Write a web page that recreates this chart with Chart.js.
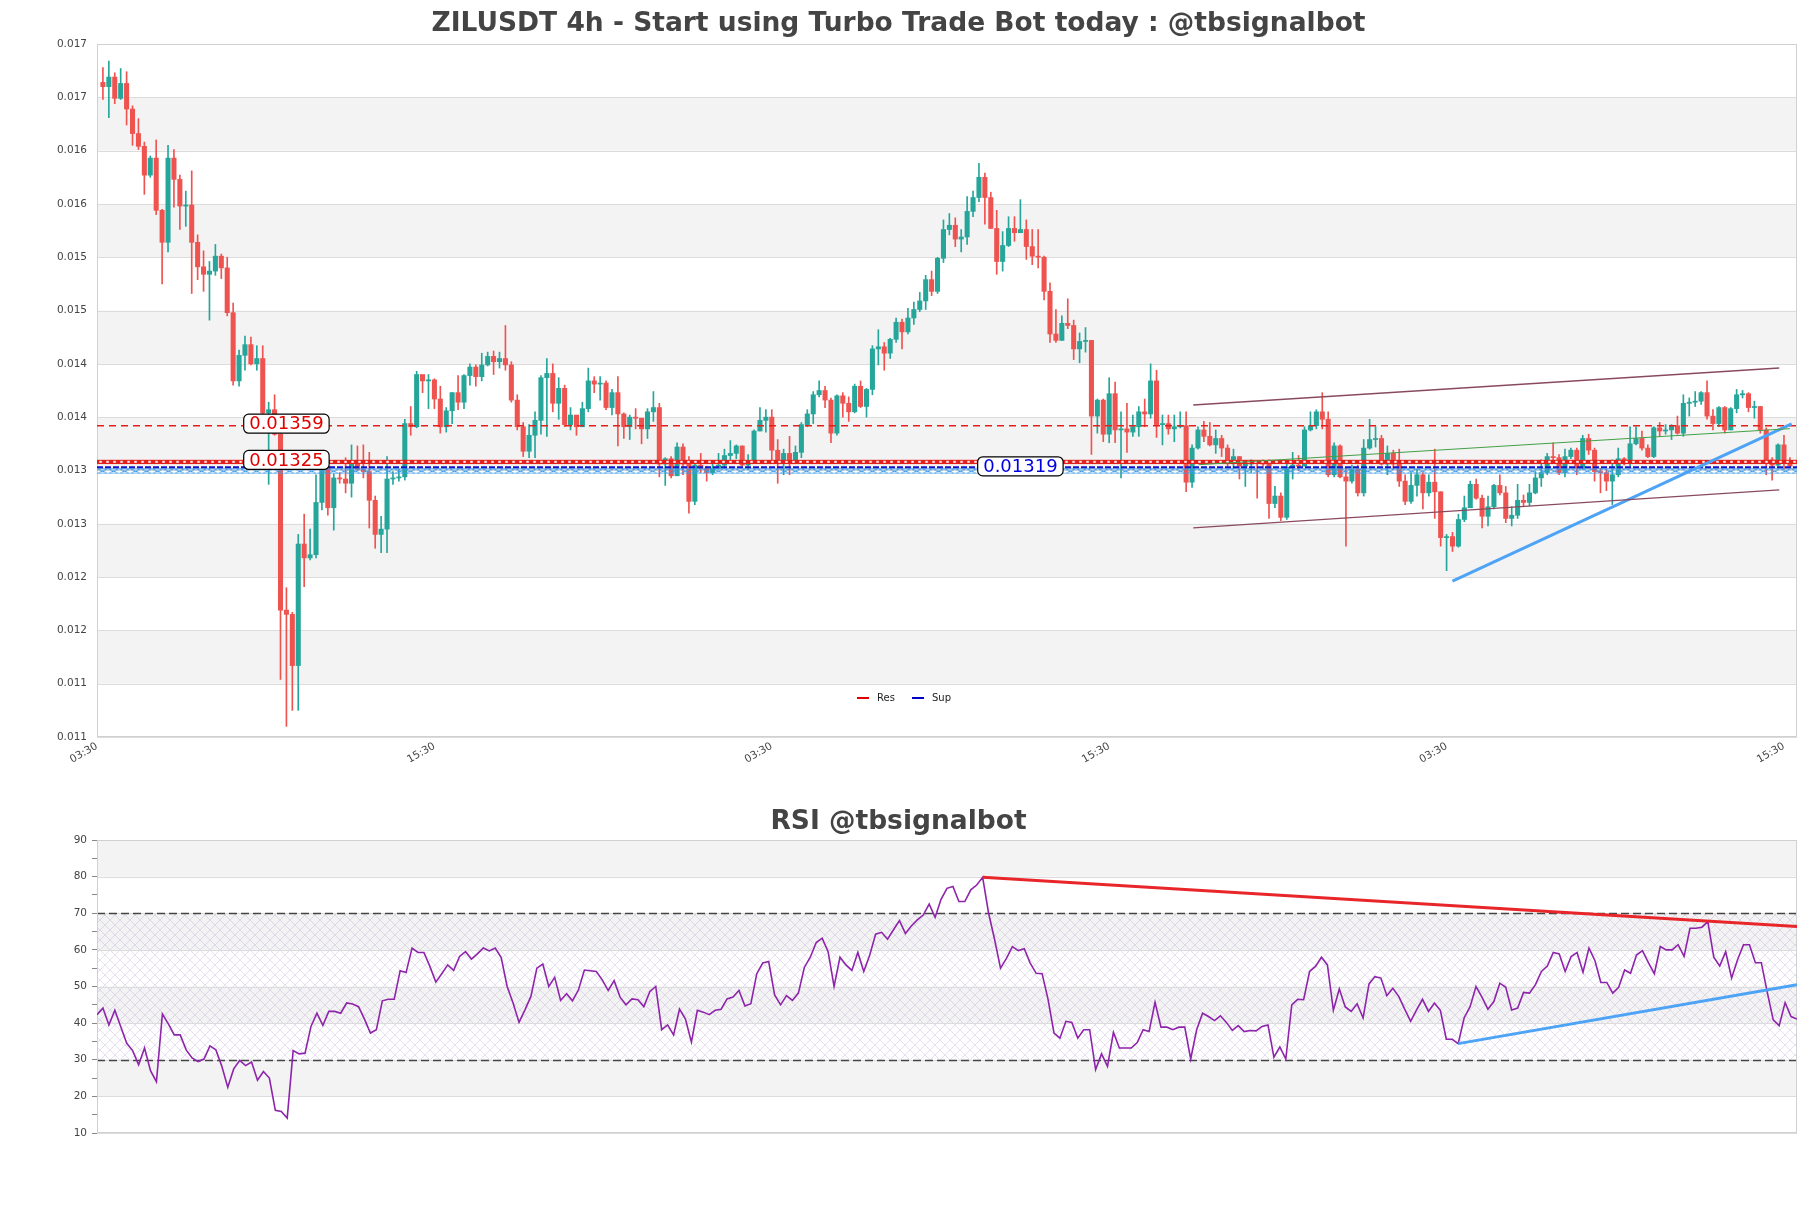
<!DOCTYPE html>
<html>
<head>
<meta charset="utf-8">
<title>ZILUSDT 4h</title>
<script src="https://cdn.jsdelivr.net/npm/chart.js@4.4.1/dist/chart.umd.min.js"></script>
<style>
  html, body { margin: 0; padding: 0; background: #fff; }
  #wrap { position: relative; width: 1811px; height: 1208px; }
  #priceChart { position: absolute; left: 0; top: 0; }
  #rsiChart { position: absolute; left: 0; top: 790px; }
</style>
</head>
<body>
<div id="wrap">
  <canvas id="priceChart" width="1811" height="790"></canvas>
  <canvas id="rsiChart" width="1811" height="418"></canvas>
</div>
<script>
// ---- price data (4h candles, oldest first) ----
const opens = [
  0.01681,0.01677,0.01686,0.01666,0.01680,0.01656,0.01633,0.01621,0.01594,0.01610,
  0.01561,0.01531,0.01610,0.01590,0.01565,0.01566,0.01531,0.01508,0.01501,0.01504,
  0.01518,0.01507,0.01465,0.01401,0.01425,0.01435,0.01417,0.01422,0.01371,0.01374,
  0.01351,0.01186,0.01182,0.01134,0.01248,0.01235,0.01238,0.01287,0.01321,0.01282,
  0.01310,0.01309,0.01305,0.01324,0.01318,0.01316,0.01289,0.01257,0.01262,0.01309,
  0.01310,0.01311,0.01361,0.01358,0.01407,0.01401,0.01402,0.01384,0.01358,0.01373,
  0.01390,0.01381,0.01406,0.01414,0.01405,0.01416,0.01424,0.01419,0.01422,0.01416,
  0.01383,0.01358,0.01335,0.01350,0.01364,0.01404,0.01408,0.01380,0.01394,0.01360,
  0.01369,0.01358,0.01375,0.01401,0.01398,0.01399,0.01376,0.01390,0.01370,0.01358,
  0.01367,0.01366,0.01356,0.01372,0.01376,0.01323,0.01328,0.01312,0.01339,0.01323,
  0.01288,0.01322,0.01319,0.01315,0.01319,0.01322,0.01331,0.01333,0.01340,0.01322,
  0.01325,0.01354,0.01364,0.01367,0.01336,0.01325,0.01333,0.01326,0.01334,0.01360,
  0.01370,0.01388,0.01392,0.01383,0.01352,0.01387,0.01380,0.01372,0.01396,0.01377,
  0.01393,0.01431,0.01433,0.01427,0.01440,0.01456,0.01447,0.01460,0.01468,0.01476,
  0.01496,0.01485,0.01516,0.01543,0.01547,0.01534,0.01536,0.01560,0.01573,0.01592,
  0.01573,0.01544,0.01513,0.01528,0.01544,0.01540,0.01543,0.01527,0.01518,0.01517,
  0.01485,0.01445,0.01439,0.01455,0.01453,0.01431,0.01438,0.01439,0.01368,0.01383,
  0.01351,0.01389,0.01355,0.01356,0.01353,0.01358,0.01372,0.01370,0.01401,0.01360,
  0.01361,0.01356,0.01358,0.01359,0.01306,0.01338,0.01355,0.01349,0.01341,0.01347,
  0.01338,0.01324,0.01330,0.01321,0.01323,0.01325,0.01324,0.01323,0.01286,0.01293,
  0.01273,0.01320,0.01322,0.01321,0.01355,0.01359,0.01372,0.01365,0.01313,0.01340,
  0.01311,0.01307,0.01318,0.01296,0.01338,0.01346,0.01347,0.01323,0.01333,0.01323,
  0.01307,0.01288,0.01303,0.01313,0.01296,0.01306,0.01297,0.01254,0.01255,0.01246,
  0.01271,0.01282,0.01304,0.01291,0.01274,0.01283,0.01303,0.01296,0.01272,0.01275,
  0.01289,0.01287,0.01296,0.01310,0.01315,0.01330,0.01329,0.01315,0.01330,0.01336,
  0.01319,0.01347,0.01336,0.01316,0.01315,0.01307,0.01313,0.01328,0.01324,0.01342,
  0.01347,0.01338,0.01330,0.01357,0.01354,0.01355,0.01359,0.01352,0.01380,0.01381,
  0.01382,0.01390,0.01368,0.01361,0.01376,0.01355,0.01375,0.01388,0.01389,0.01376,
  0.01377,0.01355,0.01327,0.01322,0.01341,0.01324
];
const highs = [
  0.01695,0.01701,0.01690,0.01694,0.01691,0.01659,0.01647,0.01625,0.01612,0.01627,
  0.01562,0.01622,0.01618,0.01594,0.01579,0.01598,0.01538,0.01523,0.01513,0.01529,
  0.01520,0.01517,0.01474,0.01430,0.01443,0.01442,0.01434,0.01434,0.01381,0.01388,
  0.01360,0.01207,0.01184,0.01257,0.01276,0.01262,0.01313,0.01327,0.01320,0.01314,
  0.01315,0.01329,0.01341,0.01340,0.01341,0.01334,0.01293,0.01274,0.01330,0.01316,
  0.01318,0.01365,0.01377,0.01410,0.01406,0.01407,0.01403,0.01396,0.01376,0.01390,
  0.01406,0.01407,0.01417,0.01416,0.01427,0.01428,0.01429,0.01428,0.01453,0.01419,
  0.01388,0.01362,0.01360,0.01372,0.01406,0.01422,0.01417,0.01404,0.01397,0.01376,
  0.01368,0.01381,0.01413,0.01405,0.01405,0.01401,0.01393,0.01405,0.01371,0.01369,
  0.01375,0.01366,0.01375,0.01391,0.01380,0.01329,0.01330,0.01343,0.01342,0.01330,
  0.01326,0.01333,0.01321,0.01324,0.01333,0.01337,0.01345,0.01341,0.01340,0.01332,
  0.01355,0.01376,0.01374,0.01374,0.01346,0.01337,0.01349,0.01340,0.01362,0.01374,
  0.01391,0.01401,0.01396,0.01385,0.01388,0.01390,0.01386,0.01398,0.01401,0.01394,
  0.01434,0.01449,0.01437,0.01441,0.01460,0.01459,0.01469,0.01475,0.01484,0.01500,
  0.01504,0.01517,0.01552,0.01558,0.01554,0.01543,0.01574,0.01579,0.01605,0.01596,
  0.01578,0.01561,0.01541,0.01555,0.01555,0.01571,0.01552,0.01543,0.01543,0.01518,
  0.01493,0.01468,0.01462,0.01478,0.01458,0.01446,0.01451,0.01439,0.01384,0.01384,
  0.01404,0.01400,0.01372,0.01380,0.01369,0.01377,0.01384,0.01417,0.01411,0.01369,
  0.01369,0.01369,0.01372,0.01372,0.01341,0.01358,0.01363,0.01362,0.01355,0.01350,
  0.01341,0.01337,0.01330,0.01326,0.01327,0.01326,0.01327,0.01327,0.01302,0.01296,
  0.01324,0.01334,0.01331,0.01358,0.01372,0.01374,0.01390,0.01372,0.01343,0.01341,
  0.01319,0.01322,0.01322,0.01346,0.01365,0.01358,0.01350,0.01340,0.01336,0.01337,
  0.01313,0.01315,0.01318,0.01315,0.01313,0.01337,0.01297,0.01257,0.01259,0.01276,
  0.01293,0.01307,0.01309,0.01294,0.01293,0.01304,0.01313,0.01302,0.01283,0.01304,
  0.01294,0.01304,0.01316,0.01327,0.01333,0.01343,0.01332,0.01337,0.01338,0.01338,
  0.01350,0.01351,0.01338,0.01319,0.01318,0.01327,0.01338,0.01329,0.01358,0.01358,
  0.01354,0.01341,0.01358,0.01362,0.01360,0.01360,0.01368,0.01388,0.01385,0.01391,
  0.01391,0.01401,0.01374,0.01377,0.01377,0.01376,0.01393,0.01392,0.01390,0.01382,
  0.01377,0.01357,0.01329,0.01342,0.01350,0.01329
];
const lows = [
  0.01665,0.01648,0.01661,0.01665,0.01641,0.01622,0.01618,0.01576,0.01592,0.01557,
  0.01492,0.01522,0.01564,0.01543,0.01546,0.01483,0.01496,0.01485,0.01458,0.01500,
  0.01497,0.01462,0.01397,0.01396,0.01411,0.01416,0.01411,0.01370,0.01304,0.01350,
  0.01121,0.01077,0.01092,0.01092,0.01208,0.01233,0.01235,0.01280,0.01275,0.01261,
  0.01305,0.01296,0.01292,0.01317,0.01310,0.01263,0.01244,0.01240,0.01240,0.01304,
  0.01307,0.01308,0.01350,0.01357,0.01390,0.01375,0.01375,0.01352,0.01353,0.01361,
  0.01374,0.01375,0.01397,0.01396,0.01401,0.01415,0.01407,0.01413,0.01411,0.01381,
  0.01355,0.01330,0.01329,0.01329,0.01351,0.01349,0.01372,0.01365,0.01358,0.01355,
  0.01350,0.01358,0.01372,0.01390,0.01383,0.01374,0.01369,0.01340,0.01347,0.01346,
  0.01356,0.01342,0.01347,0.01363,0.01311,0.01303,0.01310,0.01312,0.01313,0.01277,
  0.01285,0.01315,0.01307,0.01313,0.01318,0.01319,0.01324,0.01328,0.01321,0.01318,
  0.01324,0.01354,0.01353,0.01325,0.01305,0.01313,0.01313,0.01325,0.01329,0.01358,
  0.01361,0.01386,0.01376,0.01343,0.01350,0.01367,0.01363,0.01371,0.01376,0.01367,
  0.01388,0.01416,0.01411,0.01422,0.01437,0.01431,0.01445,0.01454,0.01466,0.01468,
  0.01481,0.01483,0.01512,0.01538,0.01527,0.01522,0.01529,0.01555,0.01569,0.01548,
  0.01544,0.01501,0.01504,0.01527,0.01532,0.01540,0.01515,0.01510,0.01507,0.01477,
  0.01437,0.01437,0.01439,0.01450,0.01421,0.01418,0.01428,0.01332,0.01352,0.01344,
  0.01343,0.01343,0.01310,0.01334,0.01349,0.01349,0.01358,0.01366,0.01348,0.01341,
  0.01351,0.01344,0.01357,0.01297,0.01301,0.01337,0.01344,0.01340,0.01333,0.01330,
  0.01321,0.01319,0.01309,0.01302,0.01315,0.01291,0.01318,0.01272,0.01282,0.01270,
  0.01271,0.01309,0.01317,0.01322,0.01354,0.01356,0.01356,0.01311,0.01311,0.01310,
  0.01246,0.01305,0.01293,0.01293,0.01337,0.01339,0.01322,0.01313,0.01318,0.01302,
  0.01285,0.01286,0.01293,0.01281,0.01293,0.01272,0.01246,0.01223,0.01241,0.01245,
  0.01269,0.01283,0.01290,0.01263,0.01265,0.01281,0.01294,0.01268,0.01265,0.01272,
  0.01283,0.01284,0.01295,0.01302,0.01313,0.01325,0.01313,0.01311,0.01328,0.01313,
  0.01318,0.01332,0.01307,0.01296,0.01298,0.01285,0.01311,0.01322,0.01321,0.01341,
  0.01336,0.01329,0.01329,0.01349,0.01351,0.01346,0.01351,0.01349,0.01368,0.01377,
  0.01379,0.01365,0.01355,0.01358,0.01352,0.01355,0.01371,0.01385,0.01372,0.01366,
  0.01352,0.01313,0.01308,0.01321,0.01318,0.01320
];
const closes = [
  0.01677,0.01686,0.01666,0.01680,0.01656,0.01633,0.01621,0.01594,0.01610,0.01561,
  0.01531,0.01610,0.01590,0.01565,0.01566,0.01531,0.01508,0.01501,0.01504,0.01518,
  0.01507,0.01465,0.01401,0.01425,0.01435,0.01417,0.01422,0.01371,0.01374,0.01351,
  0.01186,0.01182,0.01134,0.01248,0.01235,0.01238,0.01287,0.01321,0.01282,0.01310,
  0.01309,0.01305,0.01324,0.01318,0.01316,0.01289,0.01257,0.01262,0.01309,0.01310,
  0.01311,0.01361,0.01358,0.01407,0.01401,0.01402,0.01384,0.01358,0.01373,0.01390,
  0.01381,0.01406,0.01414,0.01405,0.01416,0.01424,0.01419,0.01422,0.01416,0.01383,
  0.01358,0.01335,0.01350,0.01364,0.01404,0.01408,0.01380,0.01394,0.01360,0.01369,
  0.01358,0.01375,0.01401,0.01398,0.01399,0.01376,0.01390,0.01370,0.01358,0.01367,
  0.01366,0.01356,0.01372,0.01376,0.01323,0.01328,0.01312,0.01339,0.01323,0.01288,
  0.01322,0.01319,0.01315,0.01319,0.01322,0.01331,0.01333,0.01340,0.01322,0.01325,
  0.01354,0.01364,0.01367,0.01336,0.01325,0.01333,0.01326,0.01334,0.01360,0.01370,
  0.01388,0.01392,0.01383,0.01352,0.01387,0.01380,0.01372,0.01396,0.01377,0.01393,
  0.01431,0.01433,0.01427,0.01440,0.01456,0.01447,0.01460,0.01468,0.01476,0.01496,
  0.01485,0.01516,0.01543,0.01547,0.01534,0.01536,0.01560,0.01573,0.01592,0.01573,
  0.01544,0.01513,0.01528,0.01544,0.01540,0.01543,0.01527,0.01518,0.01517,0.01485,
  0.01445,0.01439,0.01455,0.01453,0.01431,0.01438,0.01439,0.01368,0.01383,0.01351,
  0.01389,0.01355,0.01356,0.01353,0.01358,0.01372,0.01370,0.01401,0.01360,0.01361,
  0.01356,0.01358,0.01359,0.01306,0.01338,0.01355,0.01349,0.01341,0.01347,0.01338,
  0.01324,0.01330,0.01321,0.01323,0.01325,0.01324,0.01323,0.01286,0.01293,0.01273,
  0.01320,0.01322,0.01321,0.01355,0.01359,0.01372,0.01365,0.01313,0.01340,0.01311,
  0.01307,0.01318,0.01296,0.01338,0.01346,0.01347,0.01323,0.01333,0.01323,0.01307,
  0.01288,0.01303,0.01313,0.01296,0.01306,0.01297,0.01254,0.01255,0.01246,0.01271,
  0.01282,0.01304,0.01291,0.01274,0.01283,0.01303,0.01296,0.01272,0.01275,0.01289,
  0.01287,0.01296,0.01310,0.01315,0.01330,0.01329,0.01315,0.01330,0.01336,0.01319,
  0.01347,0.01336,0.01316,0.01315,0.01307,0.01313,0.01328,0.01324,0.01342,0.01347,
  0.01338,0.01330,0.01357,0.01354,0.01355,0.01359,0.01352,0.01380,0.01381,0.01382,
  0.01390,0.01368,0.01361,0.01376,0.01355,0.01375,0.01388,0.01389,0.01376,0.01377,
  0.01355,0.01327,0.01322,0.01341,0.01324,0.01321
];

// RSI(14) values, one per candle
const rsiValues = [
  42.3,44.1,39.5,43.5,39.0,34.5,32.5,28.6,33.2,27.0,
  24.0,42.5,39.8,36.8,36.8,32.7,30.5,29.5,30.2,33.8,
  32.7,28.2,22.5,27.5,29.8,28.4,29.4,24.4,26.8,25.0,
  16.2,15.9,14.1,32.5,31.6,31.8,39.1,42.7,39.4,43.2,
  43.2,42.7,45.5,45.2,44.5,41.1,37.3,38.2,46.1,46.5,
  46.5,54.3,53.8,60.5,59.3,59.3,55.5,51.2,53.5,55.9,
  54.4,58.2,59.5,57.5,58.9,60.5,59.7,60.5,57.9,50.0,
  45.5,40.2,43.6,47.3,55.0,56.1,50.0,52.5,46.2,48.0,
  46.1,49.1,54.5,54.3,54.1,51.8,48.9,51.6,47.1,45.0,
  46.6,46.4,44.5,48.6,50.0,38.2,39.5,36.8,43.8,41.1,
  34.8,43.5,43.0,42.3,43.5,43.8,46.6,47.1,48.9,44.7,
  45.3,53.5,56.4,56.8,47.7,45.0,47.5,46.2,48.2,55.2,
  58.0,62.0,63.2,59.5,50.0,58.0,55.9,54.4,59.3,54.1,
  58.6,64.3,64.8,62.9,65.5,68.0,64.5,66.5,68.2,69.5,
  72.5,68.9,73.8,76.8,77.3,73.2,73.2,76.4,77.7,79.8,
  70.0,62.9,55.0,57.7,60.9,59.8,60.3,56.4,53.6,53.5,
  46.5,37.3,35.9,40.5,40.2,35.9,38.2,38.2,27.3,31.6,
  28.2,37.5,33.2,33.2,33.2,34.7,38.2,37.7,45.7,38.9,
  38.9,38.2,38.9,38.9,30.2,38.2,42.7,41.8,40.7,42.0,
  40.2,38.0,39.3,37.7,38.0,37.9,39.1,39.5,30.7,33.5,
  30.2,45.0,46.5,46.4,54.1,55.5,58.0,55.9,43.5,49.3,
  44.4,43.2,45.3,41.4,50.7,52.7,52.3,47.5,49.5,47.3,
  43.8,40.5,43.6,46.5,43.2,45.5,43.5,35.6,35.6,34.4,
  41.4,44.5,50.0,47.1,43.8,45.9,50.9,49.8,43.6,44.1,
  48.4,48.2,50.5,54.1,55.6,59.3,58.9,54.1,58.2,59.3,
  53.9,60.5,57.1,51.1,51.1,48.2,49.8,54.5,53.6,58.6,
  59.8,56.5,53.5,60.9,60.0,60.0,61.4,58.2,65.9,65.9,
  66.2,67.7,58.0,55.6,59.5,52.3,57.3,61.4,61.4,56.5,
  56.5,48.4,40.9,39.3,45.6,41.8,41.1
];

// axes
const xTickPos = [-1, 56, 113, 170, 227, 284];
const xTickLabels = ['03:30', '15:30', '03:30', '15:30', '03:30', '15:30'];
const yTicks = [0.01067, 0.01117, 0.01167, 0.01217, 0.01267, 0.01317, 0.01367,
                0.01417, 0.01467, 0.01517, 0.01567, 0.01617, 0.01667, 0.01717];
const yTickLabels = ['0.011', '0.011', '0.012', '0.012', '0.013', '0.013', '0.014',
                     '0.014', '0.015', '0.015', '0.016', '0.016', '0.017', '0.017'];
const rsiTicks = [10, 15, 20, 25, 30, 35, 40, 45, 50, 55, 60, 65, 70, 75, 80, 85, 90];
const rsiTickLabels = ['10', '', '20', '', '30', '', '40', '', '50', '', '60', '', '70', '', '80', '', '90'];

// levels
const resLine = 0.01359;
const resZone = [0.01323, 0.01327];
const supLine = 0.01320;
const supZone = [0.01314, 0.01319];
const levelTags = [['0.01359', 0.01359], ['0.01325', 0.01325], ['0.01319', 0.01319]];

// trend lines: [candle index, price]
const channelUpper = [[184.2, 0.013784], [283.2, 0.014131]];
const channelLower = [[184.2, 0.012631], [283.2, 0.012987]];
const greenTrend = [[185.1, 0.013224], [285.0, 0.013562]];
const blueTrend = [[228.0, 0.012132], [285.3, 0.013606]];
// RSI trend lines: [index, rsi]
const rsiResTrend = [[149, 79.8], [286, 66.4]];
const rsiSupTrend = [[229, 34.4], [286, 50.5]];

const UP = '#26a69a';
const DOWN = '#ef5350';
const FONT = "'DejaVu Sans', 'Liberation Sans', sans-serif";

Chart.defaults.font.family = FONT;
Chart.defaults.color = '#444';

const candleColors = closes.map((c, i) => (c >= opens[i] ? UP : DOWN));

function trendSet(pts, color, width) {
  return {
    type: 'line',
    data: pts.map(([x, y]) => ({ x, y })),
    borderColor: color,
    borderWidth: width,
    pointRadius: 0,
    order: 1
  };
}

function makePattern(w, h, draw) {
  const c = document.createElement('canvas');
  c.width = w; c.height = h;
  draw(c.getContext('2d'));
  return c;
}

const redTile = makePattern(7, 4, g => {
  g.fillStyle = '#e3201b';
  g.fillRect(0, 0, 7, 4);
  g.fillStyle = '#fff';
  g.beginPath(); g.ellipse(3.5, 2, 1.6, 0.9, 0, 0, Math.PI * 2); g.fill();
});
const blueTile = makePattern(11, 6, g => {
  g.strokeStyle = '#3d9be9';
  g.lineWidth = 1;
  g.beginPath();
  g.moveTo(0, 0.5); g.lineTo(11, 0.5);
  g.moveTo(0, 5.5); g.lineTo(11, 5.5);
  g.moveTo(0, 0.5); g.lineTo(11, 5.5);
  g.moveTo(11, 0.5); g.lineTo(0, 5.5);
  g.stroke();
});
const hatchTile = makePattern(10, 10, g => {
  g.strokeStyle = 'rgba(165,140,195,0.35)';
  g.lineWidth = 0.8;
  g.beginPath();
  g.moveTo(0, 0); g.lineTo(10, 10);
  g.moveTo(10, 0); g.lineTo(0, 10);
  g.stroke();
});

function fillZone(ctx, a, y, zone, tile) {
  const top = y.getPixelForValue(zone[1]);
  const bot = y.getPixelForValue(zone[0]);
  const pat = ctx.createPattern(tile, 'repeat');
  pat.setTransform(new DOMMatrix().translate(a.left, top));
  ctx.fillStyle = pat;
  ctx.fillRect(a.left, top, a.right - a.left, bot - top);
}

function hLine(ctx, a, py, color, width, dash) {
  ctx.beginPath();
  ctx.setLineDash(dash || []);
  ctx.strokeStyle = color;
  ctx.lineWidth = width;
  ctx.moveTo(a.left, py);
  ctx.lineTo(a.right, py);
  ctx.stroke();
  ctx.setLineDash([]);
}

// background bands, grid, frame
const panel = {
  id: 'panel',
  beforeDatasetsDraw(chart, args, opts) {
    const { ctx, chartArea: a } = chart;
    const y = chart.scales.y;
    ctx.save();
    ctx.fillStyle = '#f3f3f3';
    opts.bands.forEach(([lo, hi]) => {
      const t = y.getPixelForValue(hi), b = y.getPixelForValue(lo);
      ctx.fillRect(a.left, t, a.right - a.left, b - t);
    });
    if (opts.hatch) {
      const t = y.getPixelForValue(opts.hatch[1]), b = y.getPixelForValue(opts.hatch[0]);
      const pat = ctx.createPattern(hatchTile, 'repeat');
      ctx.fillStyle = pat;
      ctx.fillRect(a.left, t, a.right - a.left, b - t);
    }
    opts.grid.forEach(v => {
      hLine(ctx, a, Math.round(y.getPixelForValue(v)) + 0.5, '#dcdcdc', 1);
    });
    (opts.dashed || []).forEach(v => {
      hLine(ctx, a, Math.round(y.getPixelForValue(v)) + 0.5, '#444', 1.3, [8, 4]);
    });
    ctx.strokeStyle = '#d0d0d0';
    ctx.lineWidth = 1;
    ctx.strokeRect(a.left + 0.5, a.top + 0.5, a.right - a.left - 1, a.bottom - a.top - 1);
    ctx.restore();
  }
};

function tagBox(ctx, x, y, text, color) {
  ctx.font = '18px ' + FONT;
  const w = ctx.measureText(text).width + 11;
  const h = 19;
  ctx.beginPath();
  ctx.roundRect(x - w / 2, y - h / 2, w, h, 5);
  ctx.fillStyle = '#fff';
  ctx.fill();
  ctx.lineWidth = 1.2;
  ctx.strokeStyle = '#000';
  ctx.stroke();
  ctx.fillStyle = color;
  ctx.textAlign = 'center';
  ctx.textBaseline = 'middle';
  ctx.fillText(text, x, y + 1);
}

// support / resistance levels, tags and legend
const levels = {
  id: 'levels',
  afterDatasetDraw(chart, args) {
    if (args.index !== 1) return;
    const { ctx, chartArea: a } = chart;
    const y = chart.scales.y;
    ctx.save();
    hLine(ctx, a, y.getPixelForValue(resLine), '#e3201b', 1.4, [7, 5]);
    fillZone(ctx, a, y, resZone, redTile);
    fillZone(ctx, a, y, supZone, blueTile);
    hLine(ctx, a, y.getPixelForValue(supLine), '#1414c8', 2.2, [6, 2]);
    ctx.restore();
  },
  afterDatasetsDraw(chart) {
    const { ctx, chartArea: a } = chart;
    const x = chart.scales.x, y = chart.scales.y;
    ctx.save();
    tagBox(ctx, x.getPixelForValue(31), y.getPixelForValue(levelTags[0][1]) - 2, levelTags[0][0], '#e00000');
    tagBox(ctx, x.getPixelForValue(31), y.getPixelForValue(levelTags[1][1]) - 2, levelTags[1][0], '#e00000');
    tagBox(ctx, x.getPixelForValue(155), y.getPixelForValue(levelTags[2][1]) - 2, levelTags[2][0], '#0000e0');

    // legend
    const ly = a.top + 654;
    ctx.font = '10px ' + FONT;
    ctx.textAlign = 'left';
    ctx.textBaseline = 'middle';
    [['Res', '#e00000', 760], ['Sup', '#0000cc', 815]].forEach(([label, color, off]) => {
      ctx.beginPath();
      ctx.strokeStyle = color;
      ctx.lineWidth = 2;
      ctx.moveTo(a.left + off, ly);
      ctx.lineTo(a.left + off + 12, ly);
      ctx.stroke();
      ctx.fillStyle = '#222';
      ctx.fillText(label, a.left + off + 20, ly);
    });
    ctx.restore();
  }
};

const mainBands = yTicks.slice(0, -1).map((v, k) => [v, yTicks[k + 1]]).filter((_, k) => k % 2 === 1);

new Chart(document.getElementById('priceChart'), {
  type: 'bar',
  data: {
    datasets: [
      {
        label: 'wick',
        data: lows.map((l, i) => ({ x: i, y: [l, highs[i]] })),
        backgroundColor: candleColors,
        barThickness: 1,
        grouped: false,
        minBarLength: 1,
        order: 4
      },
      {
        label: 'body',
        data: opens.map((o, i) => ({ x: i, y: [o, closes[i]] })),
        backgroundColor: candleColors,
        barThickness: 4.4,
        grouped: false,
        minBarLength: 1,
        order: 3
      },
      trendSet(channelUpper, '#8a4a5e', 1.3),
      trendSet(channelLower, '#8a4a5e', 1.3),
      trendSet(greenTrend, '#43a047', 1),
      trendSet(blueTrend, '#4da3f5', 3)
    ]
  },
  options: {
    responsive: false,
    devicePixelRatio: 1,
    animation: false,
    events: [],
    layout: { padding: { left: 0, right: 14, top: 0, bottom: 0 } },
    plugins: {
      legend: { display: false },
      tooltip: { enabled: false },
      title: {
        display: true,
        text: 'ZILUSDT 4h - Start using Turbo Trade Bot today : @tbsignalbot',
        color: '#444',
        font: { size: 26.5, weight: 'bold', family: FONT },
        padding: { top: 8.5, bottom: 3.7 }
      },
      panel: { bands: mainBands, grid: yTicks }
    },
    scales: {
      x: {
        type: 'linear',
        min: -1,
        max: 286.2,
        offset: false,
        grid: { display: false, drawTicks: false, offset: false },
        border: { display: false },
        afterBuildTicks: s => { s.ticks = xTickPos.map(v => ({ value: v })); },
        afterFit: s => { s.height = 53; },
        ticks: {
          autoSkip: false,
          minRotation: 30,
          maxRotation: 30,
          padding: 3,
          color: '#444',
          font: { size: 10.5 },
          callback: (v, i) => xTickLabels[i]
        }
      },
      y: {
        type: 'linear',
        min: 0.01067,
        max: 0.01717,
        grid: { display: false, drawTicks: false },
        border: { display: false },
        afterBuildTicks: s => { s.ticks = yTicks.map(v => ({ value: v })); },
        afterFit: s => { s.width = 97; },
        ticks: {
          padding: 10,
          color: '#444',
          font: { size: 10.5 },
          callback: (v, i) => yTickLabels[i]
        }
      }
    }
  },
  plugins: [panel, levels]
});

new Chart(document.getElementById('rsiChart'), {
  type: 'line',
  data: {
    datasets: [
      {
        label: 'RSI',
        data: rsiValues.map((v, j) => ({ x: j, y: v })),
        borderColor: '#8e24aa',
        borderWidth: 1.6,
        pointRadius: 0,
        order: 2
      },
      trendSet(rsiResTrend, '#e8262a', 3),
      trendSet(rsiSupTrend, '#4da3f5', 3)
    ]
  },
  options: {
    responsive: false,
    devicePixelRatio: 1,
    animation: false,
    events: [],
    layout: { padding: { left: 0, right: 14, top: 0, bottom: 75 } },
    plugins: {
      legend: { display: false },
      tooltip: { enabled: false },
      title: {
        display: true,
        text: 'RSI @tbsignalbot',
        color: '#444',
        font: { size: 26.5, weight: 'bold', family: FONT },
        padding: { top: 16.3, bottom: 1.9 }
      },
      panel: {
        bands: [[80, 90], [60, 70], [40, 50], [20, 30]],
        grid: [10, 20, 30, 40, 50, 60, 70, 80, 90],
        hatch: [30, 70],
        dashed: [70, 30]
      }
    },
    scales: {
      x: { type: 'linear', min: 0, max: 286, display: false },
      y: {
        type: 'linear',
        min: 10,
        max: 90,
        grid: { drawOnChartArea: false, drawTicks: true, tickLength: 5, color: '#888' },
        border: { display: false },
        afterBuildTicks: s => { s.ticks = rsiTicks.map(v => ({ value: v })); },
        afterFit: s => { s.width = 97; },
        ticks: {
          padding: 5,
          color: '#444',
          font: { size: 10.5 },
          callback: (v, i) => rsiTickLabels[i]
        }
      }
    }
  },
  plugins: [panel]
});
</script>
</body>
</html>
